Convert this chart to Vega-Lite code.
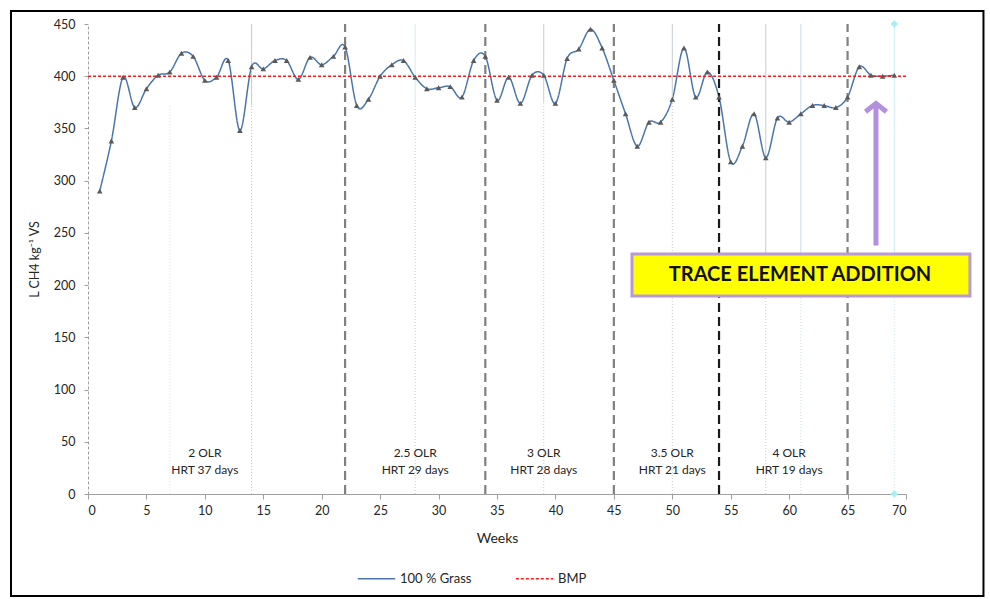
{
  "$schema": "https://vega.github.io/schema/vega-lite/v6.json",
  "width": 818,
  "height": 470,
  "autosize": "none",
  "padding": {"left": 88, "top": 24, "right": 84, "bottom": 105},
  "background": "white",
  "config": {
    "view": {"stroke": null},
    "font": "Lato",
    "text": {"font": "Lato"},
    "axisX": {"grid": false, "domainColor": "#a0a0a0", "tickColor": "#a0a0a0", "tickSize": 5, "labelFontSize": 12.5,
      "labelColor": "#262626", "labelPadding": 5, "titleFontSize": 14, "titleFontWeight": "normal",
      "titleColor": "#262626", "titlePadding": 15, "labelFont": "Lato", "titleFont": "Lato"},
    "axisY": {"grid": false, "domainColor": "#a0a0a0", "domainDash": [3, 2], "tickColor": "#a0a0a0", "tickSize": 4,
      "labelFontSize": 12.5, "labelColor": "#262626", "labelPadding": 9, "titleFontSize": 12.5,
      "titleFontWeight": "normal", "titleColor": "#262626", "titlePadding": 12, "labelFont": "Lato", "titleFont": "Lato"}
  },
  "datasets": {
    "series": [
      {"week": 1, "ch4": 290, "series": "100 % Grass"},
      {"week": 2, "ch4": 338, "series": "100 % Grass"},
      {"week": 3, "ch4": 399, "series": "100 % Grass"},
      {"week": 4, "ch4": 370, "series": "100 % Grass"},
      {"week": 5, "ch4": 388, "series": "100 % Grass"},
      {"week": 6, "ch4": 401, "series": "100 % Grass"},
      {"week": 7, "ch4": 404, "series": "100 % Grass"},
      {"week": 8, "ch4": 422, "series": "100 % Grass"},
      {"week": 9, "ch4": 419, "series": "100 % Grass"},
      {"week": 10, "ch4": 396, "series": "100 % Grass"},
      {"week": 11, "ch4": 399, "series": "100 % Grass"},
      {"week": 12, "ch4": 415, "series": "100 % Grass"},
      {"week": 13, "ch4": 348, "series": "100 % Grass"},
      {"week": 14, "ch4": 409, "series": "100 % Grass"},
      {"week": 15, "ch4": 407, "series": "100 % Grass"},
      {"week": 16, "ch4": 415, "series": "100 % Grass"},
      {"week": 17, "ch4": 415, "series": "100 % Grass"},
      {"week": 18, "ch4": 397, "series": "100 % Grass"},
      {"week": 19, "ch4": 418, "series": "100 % Grass"},
      {"week": 20, "ch4": 411, "series": "100 % Grass"},
      {"week": 21, "ch4": 419, "series": "100 % Grass"},
      {"week": 22, "ch4": 428, "series": "100 % Grass"},
      {"week": 23, "ch4": 372, "series": "100 % Grass"},
      {"week": 24, "ch4": 378, "series": "100 % Grass"},
      {"week": 25, "ch4": 400, "series": "100 % Grass"},
      {"week": 26, "ch4": 411, "series": "100 % Grass"},
      {"week": 27, "ch4": 415, "series": "100 % Grass"},
      {"week": 28, "ch4": 399, "series": "100 % Grass"},
      {"week": 29, "ch4": 388, "series": "100 % Grass"},
      {"week": 30, "ch4": 389, "series": "100 % Grass"},
      {"week": 31, "ch4": 390, "series": "100 % Grass"},
      {"week": 32, "ch4": 380, "series": "100 % Grass"},
      {"week": 33, "ch4": 415, "series": "100 % Grass"},
      {"week": 34, "ch4": 419, "series": "100 % Grass"},
      {"week": 35, "ch4": 377, "series": "100 % Grass"},
      {"week": 36, "ch4": 399, "series": "100 % Grass"},
      {"week": 37, "ch4": 374, "series": "100 % Grass"},
      {"week": 38, "ch4": 401, "series": "100 % Grass"},
      {"week": 39, "ch4": 401, "series": "100 % Grass"},
      {"week": 40, "ch4": 374, "series": "100 % Grass"},
      {"week": 41, "ch4": 417, "series": "100 % Grass"},
      {"week": 42, "ch4": 426, "series": "100 % Grass"},
      {"week": 43, "ch4": 445, "series": "100 % Grass"},
      {"week": 44, "ch4": 427, "series": "100 % Grass"},
      {"week": 45, "ch4": 396, "series": "100 % Grass"},
      {"week": 46, "ch4": 364, "series": "100 % Grass"},
      {"week": 47, "ch4": 333, "series": "100 % Grass"},
      {"week": 48, "ch4": 356, "series": "100 % Grass"},
      {"week": 49, "ch4": 356, "series": "100 % Grass"},
      {"week": 50, "ch4": 378, "series": "100 % Grass"},
      {"week": 51, "ch4": 427, "series": "100 % Grass"},
      {"week": 52, "ch4": 380, "series": "100 % Grass"},
      {"week": 53, "ch4": 404, "series": "100 % Grass"},
      {"week": 54, "ch4": 380, "series": "100 % Grass"},
      {"week": 55, "ch4": 318, "series": "100 % Grass"},
      {"week": 56, "ch4": 333, "series": "100 % Grass"},
      {"week": 57, "ch4": 364, "series": "100 % Grass"},
      {"week": 58, "ch4": 322, "series": "100 % Grass"},
      {"week": 59, "ch4": 360, "series": "100 % Grass"},
      {"week": 60, "ch4": 356, "series": "100 % Grass"},
      {"week": 61, "ch4": 364, "series": "100 % Grass"},
      {"week": 62, "ch4": 372, "series": "100 % Grass"},
      {"week": 63, "ch4": 372, "series": "100 % Grass"},
      {"week": 64, "ch4": 370, "series": "100 % Grass"},
      {"week": 65, "ch4": 380, "series": "100 % Grass"},
      {"week": 66, "ch4": 409, "series": "100 % Grass"},
      {"week": 67, "ch4": 401, "series": "100 % Grass"},
      {"week": 68, "ch4": 400, "series": "100 % Grass"},
      {"week": 69, "ch4": 401, "series": "100 % Grass"},
      {"week": 0, "ch4": 400, "series": "BMP"},
      {"week": 70, "ch4": 400, "series": "BMP"}
    ],
    "minor": [
      {"week": 7, "lo": 0, "hi": 372, "part": "lower", "tone": "cyan"},
      {"week": 14, "lo": 372, "hi": 450, "part": "upper", "tone": "gray"},
      {"week": 14, "lo": 0, "hi": 372, "part": "lower", "tone": "gray"},
      {"week": 28, "lo": 372, "hi": 450, "part": "upper", "tone": "cyan"},
      {"week": 28, "lo": 0, "hi": 372, "part": "lower", "tone": "gray"},
      {"week": 39, "lo": 375, "hi": 450, "part": "upper", "tone": "gray"},
      {"week": 39, "lo": 0, "hi": 375, "part": "lower", "tone": "gray"},
      {"week": 50, "lo": 375, "hi": 450, "part": "upper", "tone": "gray"},
      {"week": 50, "lo": 0, "hi": 375, "part": "lower", "tone": "gray"},
      {"week": 58, "lo": 210, "hi": 450, "part": "upper", "tone": "gray"},
      {"week": 58, "lo": 0, "hi": 210, "part": "lower", "tone": "gray"},
      {"week": 61, "lo": 210, "hi": 450, "part": "upper", "tone": "blue"},
      {"week": 61, "lo": 0, "hi": 210, "part": "lower", "tone": "blue"},
      {"week": 69, "lo": 210, "hi": 450, "part": "upper", "tone": "cyan"},
      {"week": 69, "lo": 0, "hi": 210, "part": "lower", "tone": "cyan"}
    ],
    "phases": [
      {"week": 22, "kind": "major"},
      {"week": 34, "kind": "major"},
      {"week": 45, "kind": "major"},
      {"week": 54, "kind": "black"},
      {"week": 65, "kind": "major"}
    ],
    "labels": [
      {"week": 10, "label": "2 OLR\nHRT 37 days"},
      {"week": 28, "label": "2.5 OLR\nHRT 29 days"},
      {"week": 39, "label": "3 OLR\nHRT 28 days"},
      {"week": 50, "label": "3.5 OLR\nHRT 21 days"},
      {"week": 60, "label": "4 OLR\nHRT 19 days"}
    ],
    "markers": [
      {"week": 69, "v": 0},
      {"week": 69, "v": 450}
    ],
    "note": [{"t": "TRACE ELEMENT ADDITION"}]
  },
  "layer": [
    {
      "data": {"name": "series"},
      "mark": {"type": "line", "interpolate": "cardinal", "strokeWidth": 1.5},
      "encoding": {
        "x": {"field": "week", "type": "quantitative", "scale": {"domain": [0, 70], "nice": false},
          "title": "Weeks", "axis": {"title": "Weeks", "values": [0, 5, 10, 15, 20, 25, 30, 35, 40, 45, 50, 55, 60, 65, 70]}},
        "y": {"field": "ch4", "type": "quantitative", "scale": {"domain": [0, 450], "nice": false},
          "title": "L CH4 kg⁻¹ VS", "axis": {"title": "L CH4 kg⁻¹ VS", "values": [0, 50, 100, 150, 200, 250, 300, 350, 400, 450]}},
        "color": {"field": "series", "type": "nominal",
          "scale": {"domain": ["100 % Grass", "BMP"], "range": ["#4a76ad", "#ff1a1a"]},
          "legend": {"title": null, "orient": "none", "legendX": 269, "legendY": 535, "direction": "horizontal", "symbolType": "stroke",
            "symbolSize": 1400, "symbolStrokeWidth": 1.5, "labelFontSize": 13, "labelColor": "#262626",
            "labelFont": "Lato", "columnPadding": 40}},
        "strokeDash": {"field": "series", "type": "nominal",
          "scale": {"domain": ["100 % Grass", "BMP"], "range": [[1, 0], [3, 2]]},
          "legend": {"title": null, "orient": "none", "legendX": 269, "legendY": 535, "direction": "horizontal", "symbolType": "stroke",
            "symbolSize": 1400, "symbolStrokeWidth": 1.5, "labelFontSize": 13, "labelColor": "#262626",
            "labelFont": "Lato", "columnPadding": 40}}
      }
    },
    {
      "data": {"values": [{}]},
      "mark": {"type": "rect", "fillOpacity": 0, "stroke": "#000000", "strokeWidth": 2},
      "encoding": {
        "x": {"datum": -6.59, "type": "quantitative", "scale": {"domain": [0, 70], "nice": false}},
        "x2": {"datum": 76.63},
        "y": {"datum": 462.4, "type": "quantitative", "scale": {"domain": [0, 450], "nice": false}},
        "y2": {"datum": -97.7}
      }
    },
    {
      "data": {"name": "minor"},
      "transform": [{"filter": "datum.part === 'upper'"}],
      "mark": {"type": "rule", "strokeWidth": 1},
      "encoding": {
        "x": {"field": "week", "type": "quantitative", "scale": {"domain": [0, 70], "nice": false}},
        "y": {"field": "lo", "type": "quantitative", "scale": {"domain": [0, 450], "nice": false}},
        "y2": {"field": "hi"},
        "stroke": {"field": "tone", "type": "nominal", "legend": null,
          "scale": {"domain": ["gray", "cyan", "blue", "major", "black"], "range": ["#c3ccd3", "#cdeef4", "#c6dcef", "#808080", "#1a1a1a"]}}
      }
    },
    {
      "data": {"name": "minor"},
      "transform": [{"filter": "datum.part === 'lower'"}],
      "mark": {"type": "rule", "strokeWidth": 1, "strokeDash": [1, 2]},
      "encoding": {
        "x": {"field": "week", "type": "quantitative", "scale": {"domain": [0, 70], "nice": false}},
        "y": {"field": "lo", "type": "quantitative", "scale": {"domain": [0, 450], "nice": false}},
        "y2": {"field": "hi"},
        "stroke": {"field": "tone", "type": "nominal", "legend": null,
          "scale": {"domain": ["gray", "cyan", "blue", "major", "black"], "range": ["#c3ccd3", "#cdeef4", "#c6dcef", "#808080", "#1a1a1a"]}}
      }
    },
    {
      "data": {"name": "phases"},
      "mark": {"type": "rule", "strokeWidth": 2.2, "strokeDash": [9, 5]},
      "encoding": {
        "x": {"field": "week", "type": "quantitative", "scale": {"domain": [0, 70], "nice": false}},
        "y": {"datum": 0, "type": "quantitative", "scale": {"domain": [0, 450], "nice": false}},
        "y2": {"datum": 450},
        "stroke": {"field": "kind", "type": "nominal", "legend": null,
          "scale": {"domain": ["gray", "cyan", "blue", "major", "black"], "range": ["#c3ccd3", "#cdeef4", "#c6dcef", "#808080", "#1a1a1a"]}}
      }
    },
    {
      "data": {"name": "markers"},
      "mark": {"type": "point", "shape": "diamond", "filled": true, "color": "#a8eef6", "size": 60, "opacity": 1},
      "encoding": {
        "x": {"field": "week", "type": "quantitative", "scale": {"domain": [0, 70], "nice": false}},
        "y": {"field": "v", "type": "quantitative", "scale": {"domain": [0, 450], "nice": false}}
      }
    },
    {
      "data": {"name": "series"},
      "transform": [{"filter": "datum.series === '100 % Grass'"}],
      "mark": {"type": "point", "shape": "triangle-up", "filled": true, "color": "#5a5a5a", "size": 32, "opacity": 1},
      "encoding": {
        "x": {"field": "week", "type": "quantitative", "scale": {"domain": [0, 70], "nice": false}},
        "y": {"field": "ch4", "type": "quantitative", "scale": {"domain": [0, 450], "nice": false}}
      }
    },
    {
      "data": {"name": "labels"},
      "mark": {"type": "text", "fontSize": 12, "color": "#262626", "lineBreak": "\n", "lineHeight": 17, "baseline": "middle", "align": "center"},
      "encoding": {
        "x": {"field": "week", "type": "quantitative", "scale": {"domain": [0, 70], "nice": false}},
        "y": {"datum": 39, "type": "quantitative", "scale": {"domain": [0, 450], "nice": false}},
        "text": {"field": "label"}
      }
    },
    {
      "data": {"name": "note"},
      "mark": {"type": "rect", "fill": "#ffff00", "stroke": "#b89ad8", "strokeWidth": 3},
      "encoding": {
        "x": {"datum": 46.55, "type": "quantitative", "scale": {"domain": [0, 70], "nice": false}},
        "x2": {"datum": 75.47},
        "y": {"datum": 229.8, "type": "quantitative", "scale": {"domain": [0, 450], "nice": false}},
        "y2": {"datum": 189.6}
      }
    },
    {
      "data": {"name": "note"},
      "mark": {"type": "text", "fontSize": 20, "fontWeight": "bold", "color": "#111111", "align": "center", "baseline": "middle"},
      "encoding": {
        "x": {"datum": 60.93, "type": "quantitative", "scale": {"domain": [0, 70], "nice": false}},
        "y": {"datum": 209.7, "type": "quantitative", "scale": {"domain": [0, 450], "nice": false}},
        "text": {"field": "t"}
      }
    },
    {
      "data": {"name": "note"},
      "mark": {"type": "rule", "strokeWidth": 5, "color": "#b48fdc"},
      "encoding": {
        "x": {"datum": 67.43, "type": "quantitative", "scale": {"domain": [0, 70], "nice": false}},
        "y": {"datum": 238, "type": "quantitative", "scale": {"domain": [0, 450], "nice": false}},
        "y2": {"datum": 373}
      }
    },
    {
      "data": {"name": "note"},
      "mark": {"type": "point", "shape": "M-1,0.8L0,0L1,0.8", "filled": false, "stroke": "#b48fdc", "strokeWidth": 5, "size": 440, "opacity": 1, "strokeJoin": "miter"},
      "encoding": {
        "x": {"datum": 67.43, "type": "quantitative", "scale": {"domain": [0, 70], "nice": false}},
        "y": {"datum": 374, "type": "quantitative", "scale": {"domain": [0, 450], "nice": false}}
      }
    }
  ]
}
